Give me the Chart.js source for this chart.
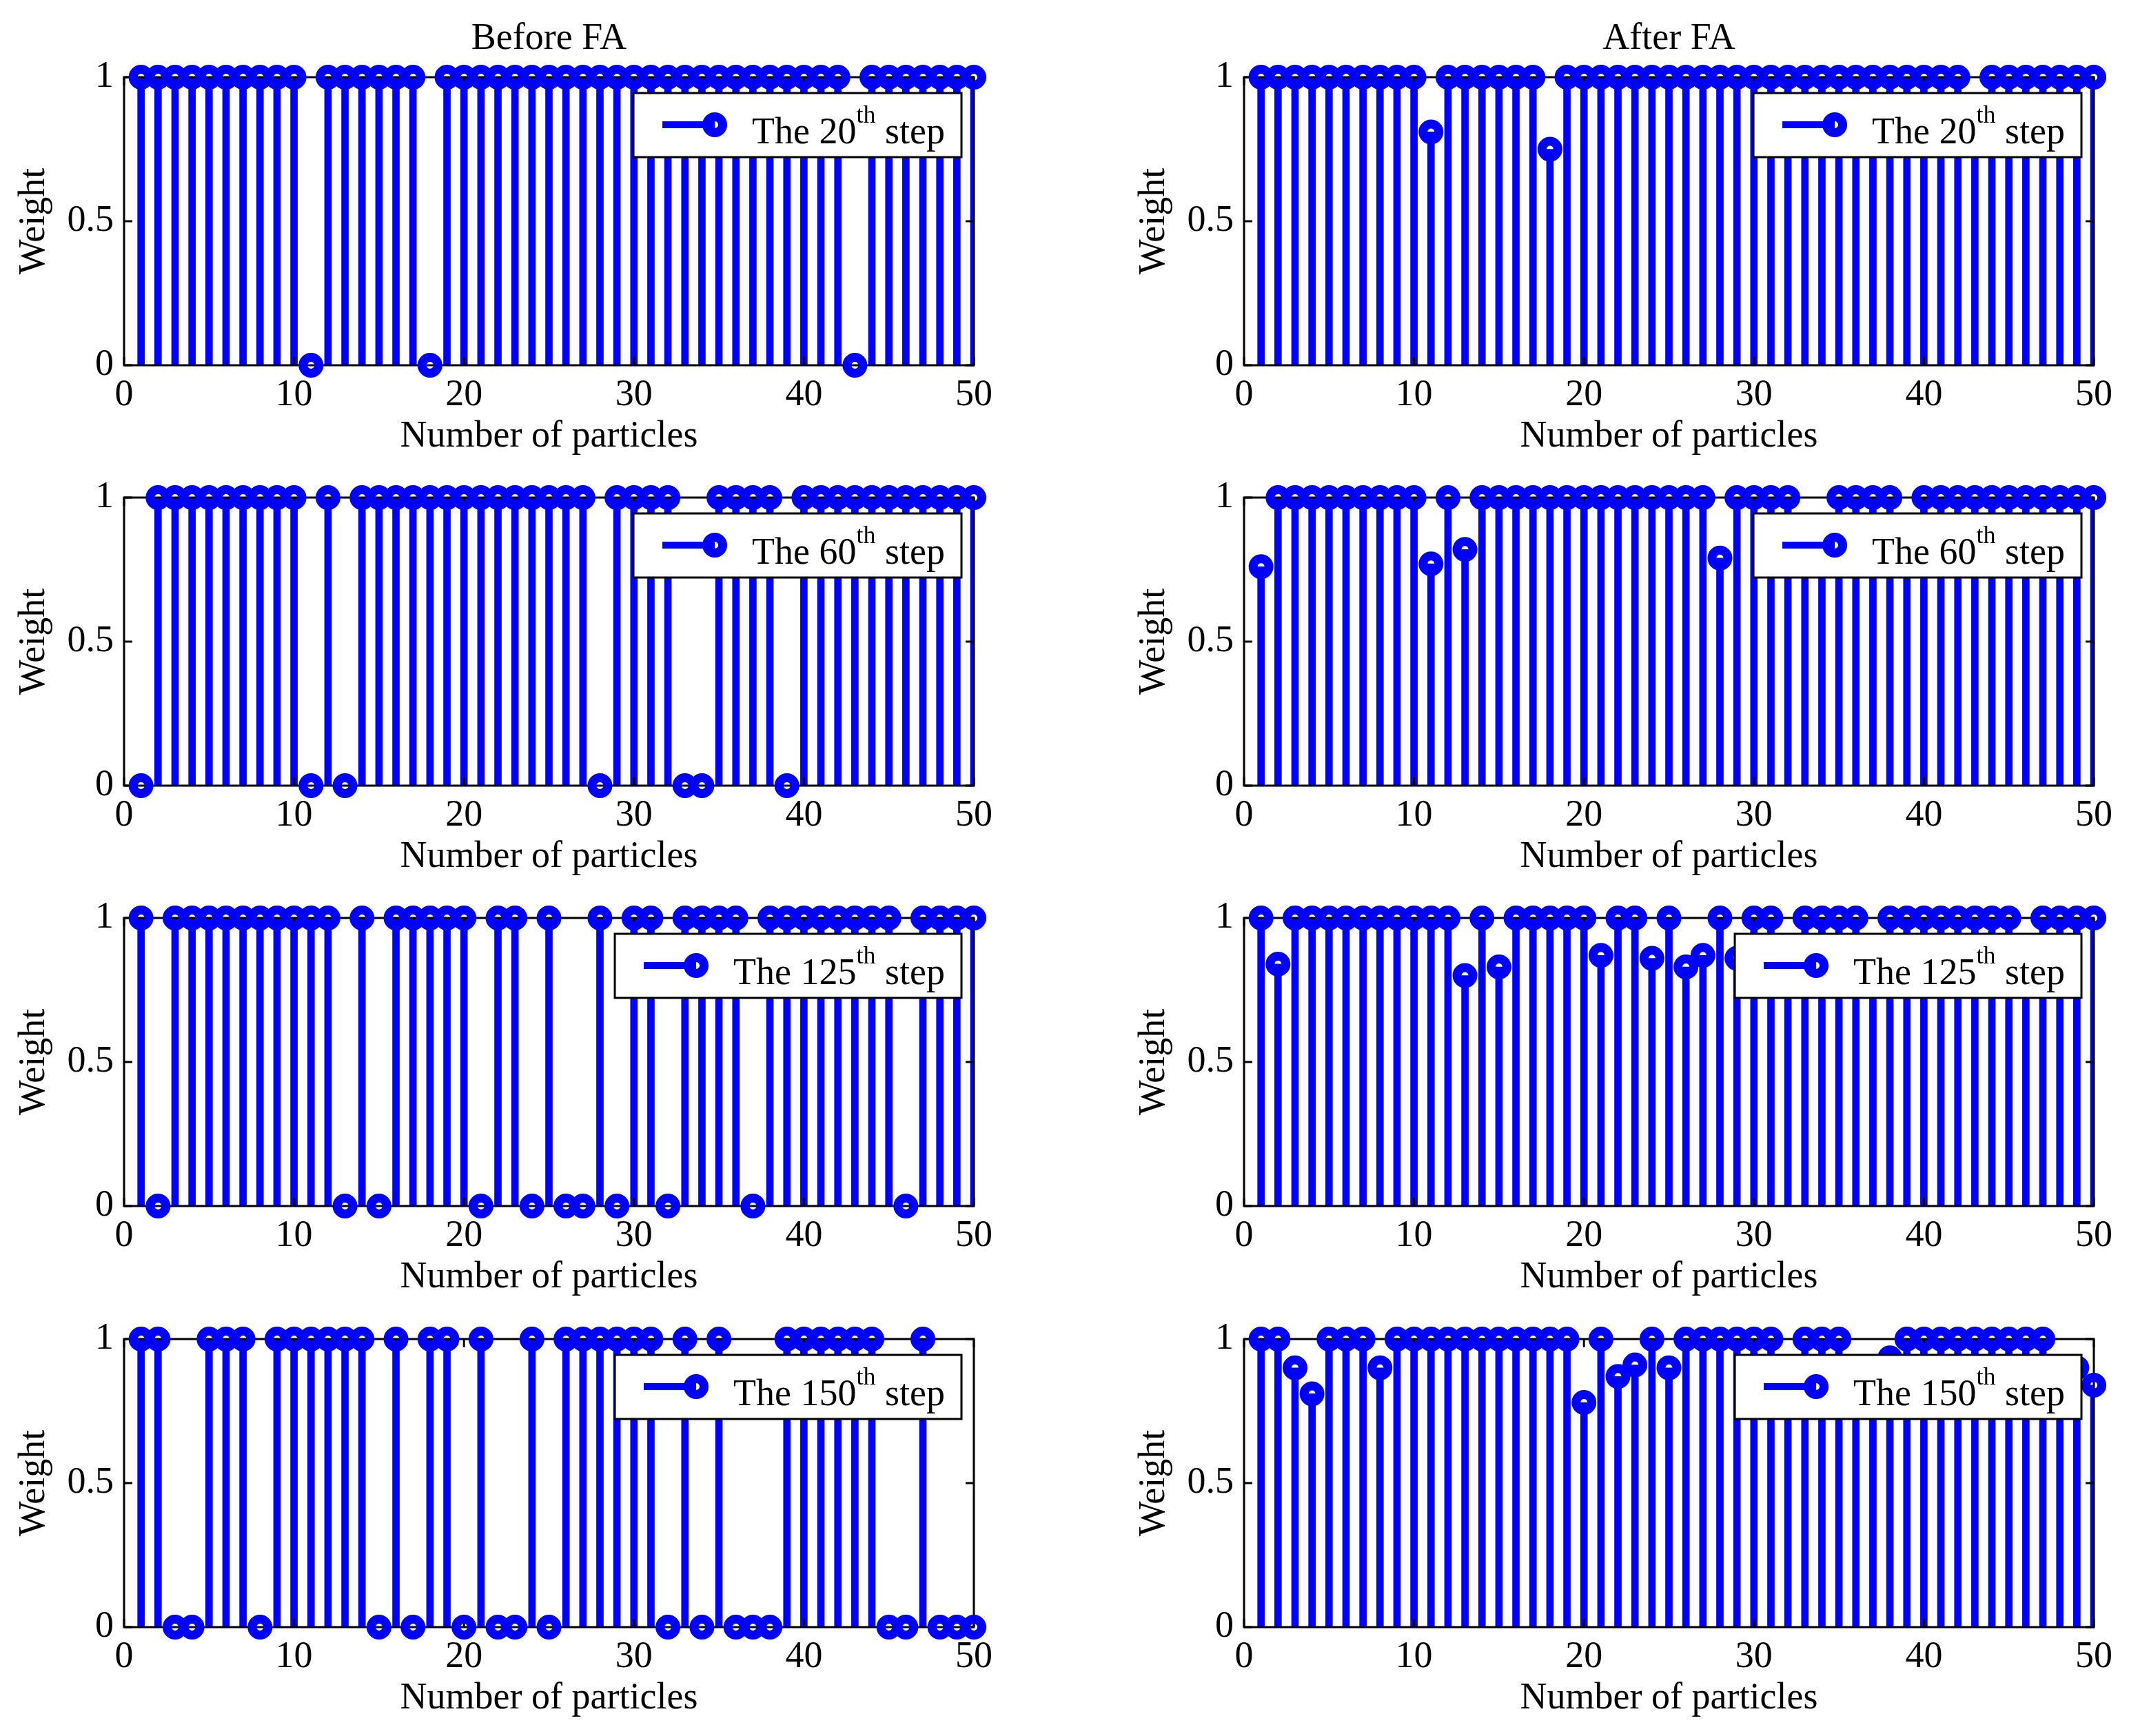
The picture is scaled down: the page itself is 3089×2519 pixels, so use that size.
<!DOCTYPE html>
<html>
<head>
<meta charset="utf-8">
<script src="https://cdn.jsdelivr.net/npm/chart.js@4.4.0/dist/chart.umd.min.js"></script>
<style>
html, body { margin: 0; padding: 0; background: #ffffff; }
body { position: relative; width: 3089px; height: 2519px; overflow: hidden; }
canvas { position: absolute; }
</style>
</head>
<body>
<script>
// ---------------- data ----------------
const particles = [1,2,3,4,5,6,7,8,9,10,11,12,13,14,15,16,17,18,19,20,21,22,23,24,25,
                   26,27,28,29,30,31,32,33,34,35,36,37,38,39,40,41,42,43,44,45,46,47,48,49,50];
const xTickValues = [0, 10, 20, 30, 40, 50];
const yTickValues = [0, 0.5, 1];
const columnTitles = ['Before FA', 'After FA'];
const stepNumbers = ['20', '60', '125', '150'];
const xAxisLabel = 'Number of particles';
const yAxisLabel = 'Weight';

const beforeFA20 = [1,1,1,1,1,1,1,1,1,1,
                    0,1,1,1,1,1,1,0,1,1,
                    1,1,1,1,1,1,1,1,1,1,
                    1,1,1,1,1,1,1,1,1,1,
                    1,1,0,1,1,1,1,1,1,1];
const afterFA20  = [1,1,1,1,1,1,1,1,1,1,
                    0.81,1,1,1,1,1,1,0.75,1,1,
                    1,1,1,1,1,1,1,1,1,1,
                    1,1,1,1,1,1,1,1,1,1,
                    1,1,0.85,1,1,1,1,1,1,1];

const beforeFA60 = [0,1,1,1,1,1,1,1,1,1,
                    0,1,0,1,1,1,1,1,1,1,
                    1,1,1,1,1,1,1,0,1,1,
                    1,1,0,0,1,1,1,1,0,1,
                    1,1,1,1,1,1,1,1,1,1];
const afterFA60  = [0.76,1,1,1,1,1,1,1,1,1,
                    0.77,1,0.82,1,1,1,1,1,1,1,
                    1,1,1,1,1,1,1,0.79,1,1,
                    1,1,0.83,0.80,1,1,1,1,0.86,1,
                    1,1,1,1,1,1,1,1,1,1];

const beforeFA125 = [1,0,1,1,1,1,1,1,1,1,
                     1,1,0,1,0,1,1,1,1,1,
                     0,1,1,0,1,0,0,1,0,1,
                     1,0,1,1,1,1,0,1,1,1,
                     1,1,1,1,1,0,1,1,1,1];
const afterFA125  = [1,0.84,1,1,1,1,1,1,1,1,
                     1,1,0.80,1,0.83,1,1,1,1,1,
                     0.87,1,1,0.86,1,0.83,0.87,1,0.86,1,
                     1,0.84,1,1,1,1,0.82,1,1,1,
                     1,1,1,1,1,0.85,1,1,1,1];

const beforeFA150 = [1,1,0,0,1,1,1,0,1,1,
                     1,1,1,1,0,1,0,1,1,0,
                     1,0,0,1,0,1,1,1,1,1,
                     1,0,1,0,1,0,0,0,1,1,
                     1,1,1,1,0,0,1,0,0,0];
const afterFA150  = [1,1,0.90,0.81,1,1,1,0.90,1,1,
                     1,1,1,1,1,1,1,1,1,0.78,
                     1,0.87,0.91,1,0.90,1,1,1,1,1,
                     1,0.85,1,1,1,0.84,0.86,0.935,1,1,
                     1,1,1,1,1,1,1,0.86,0.90,0.84];

const panelSeries = [
  [beforeFA20,  afterFA20],
  [beforeFA60,  afterFA60],
  [beforeFA125, afterFA125],
  [beforeFA150, afterFA150]
];

// ---------------- styling / layout ----------------
const FONT = '"Liberation Serif", "Times New Roman", Times, serif';
const BLUE = '#0000ff';
const BLACK = '#000000';
const COL_LEFT = [0, 1625];
const PLOT_TOP = [112, 722, 1332, 1943];
const CANVAS_W = 1464, CANVAS_H = 680;

const boxPlugin = {
  id: 'matlabBox',
  beforeDatasetDraw(chart, args) {
    if (args.index !== 1) return;
    const { ctx, chartArea: a, scales: { x, y } } = chart;
    ctx.save();
    ctx.strokeStyle = BLACK;
    ctx.lineWidth = 3;
    ctx.strokeRect(a.left, a.top, a.right - a.left, a.bottom - a.top);
    ctx.beginPath();
    const tl = 12;
    xTickValues.forEach(v => {
      const px = x.getPixelForValue(v);
      ctx.moveTo(px, a.bottom); ctx.lineTo(px, a.bottom - tl);
      ctx.moveTo(px, a.top);    ctx.lineTo(px, a.top + tl);
    });
    yTickValues.forEach(v => {
      const py = y.getPixelForValue(v);
      ctx.moveTo(a.left, py);  ctx.lineTo(a.left + tl, py);
      ctx.moveTo(a.right, py); ctx.lineTo(a.right - tl, py);
    });
    ctx.stroke();
    ctx.restore();
  }
};

const legendPlugin = {
  id: 'stepLegend',
  afterDatasetsDraw(chart, args, opts) {
    const { ctx, chartArea: a } = chart;
    const mainFont = '54px ' + FONT;
    const supFont = '36px ' + FONT;
    ctx.save();
    ctx.font = mainFont;
    const t1 = 'The ' + opts.step;
    const t3 = ' step';
    const w1 = ctx.measureText(t1).width;
    const w3 = ctx.measureText(t3).width;
    ctx.font = supFont;
    const w2 = ctx.measureText('th').width;
    const boxW = 42 + 76 + 54 + w1 + w2 + w3 + 24;
    const boxH = 93;
    const right = a.right - 18;
    const top = a.top + 23;
    const left = right - boxW;
    ctx.fillStyle = '#ffffff';
    ctx.fillRect(left, top, boxW, boxH);
    ctx.strokeStyle = BLACK;
    ctx.lineWidth = 3;
    ctx.strokeRect(left, top, boxW, boxH);
    const cy = top + 46;
    ctx.strokeStyle = BLUE;
    ctx.lineWidth = 10;
    ctx.beginPath();
    ctx.moveTo(left + 42, cy);
    ctx.lineTo(left + 118, cy);
    ctx.stroke();
    ctx.lineWidth = 13;
    ctx.beginPath();
    ctx.arc(left + 118, cy, 11.5, 0, Math.PI * 2);
    ctx.stroke();
    ctx.fillStyle = BLACK;
    ctx.textAlign = 'left';
    ctx.textBaseline = 'alphabetic';
    let tx = left + 172;
    const by = top + 73;
    ctx.font = mainFont; ctx.fillText(t1, tx, by); tx += w1;
    ctx.font = supFont;  ctx.fillText('th', tx, by - 30); tx += w2;
    ctx.font = mainFont; ctx.fillText(t3, tx, by);
    ctx.restore();
  }
};

function makePanel(row, col) {
  const values = panelSeries[row][col];
  const points = particles.map((p, i) => ({ x: p, y: values[i] }));
  const canvas = document.createElement('canvas');
  canvas.width = CANVAS_W;
  canvas.height = CANVAS_H;
  canvas.style.width = CANVAS_W + 'px';
  canvas.style.height = CANVAS_H + 'px';
  canvas.style.left = COL_LEFT[col] + 'px';
  canvas.style.top = (PLOT_TOP[row] - 112) + 'px';
  document.body.appendChild(canvas);

  const font = { family: FONT, size: 54, weight: 'normal', lineHeight: 1.2 };

  new Chart(canvas.getContext('2d'), {
    type: 'scatter',
    data: {
      datasets: [
        {
          type: 'bar',
          data: points,
          backgroundColor: BLUE,
          borderWidth: 0,
          barThickness: 10,
          grouped: false,
          order: 2
        },
        {
          type: 'scatter',
          data: points,
          showLine: false,
          pointStyle: 'circle',
          pointRadius: 11.5,
          pointHoverRadius: 11.5,
          pointBorderWidth: 13,
          pointBorderColor: BLUE,
          pointBackgroundColor: 'rgba(0,0,0,0)',
          clip: false,
          order: 1
        }
      ]
    },
    options: {
      responsive: false,
      animation: false,
      devicePixelRatio: 1,
      events: [],
      layout: { padding: { left: 0, right: 51, top: row === 0 ? 0 : 112, bottom: 0 } },
      plugins: {
        legend: { display: false },
        tooltip: { enabled: false },
        title: {
          display: row === 0,
          text: columnTitles[col],
          color: BLACK,
          font: font,
          fullSize: false,
          padding: { top: 24, bottom: 23.2 }
        },
        stepLegend: { step: stepNumbers[row] }
      },
      scales: {
        x: {
          type: 'linear',
          min: 0, max: 50,
          offset: false,
          grid: { display: false, drawTicks: false, offset: false },
          border: { display: false },
          ticks: { stepSize: 10, padding: 11, color: BLACK, font: font, maxRotation: 0, autoSkip: false,
                   callback: v => String(v) },
          title: { display: true, text: xAxisLabel, color: BLACK, font: font, padding: { top: 0, bottom: 13.6 } },
          afterFit: s => { s.height = 150; }
        },
        y: {
          type: 'linear',
          min: 0, max: 1,
          grid: { display: false, drawTicks: false },
          border: { display: false },
          ticks: { stepSize: 0.5, padding: 15, color: BLACK, font: font,
                   callback: v => String(v) },
          title: { display: true, text: yAxisLabel, color: BLACK, font: font, padding: { top: 17.6, bottom: 0 } },
          afterFit: s => { s.width = 180; }
        }
      }
    },
    plugins: [boxPlugin, legendPlugin]
  });
}

for (let r = 0; r < 4; r++) {
  for (let c = 0; c < 2; c++) {
    makePanel(r, c);
  }
}
</script>
</body>
</html>
